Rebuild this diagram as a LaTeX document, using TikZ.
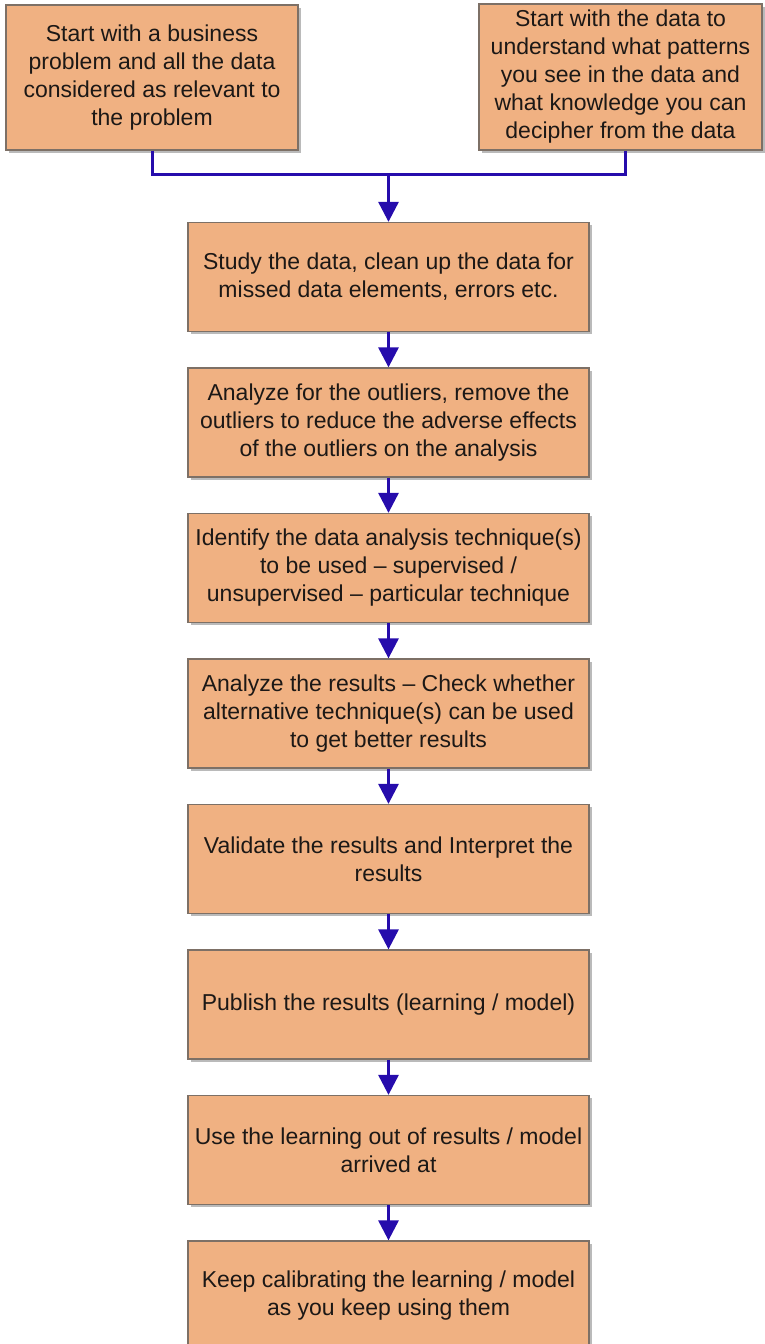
\documentclass[tikz,border=0pt]{standalone}
\usepackage{fontspec}
\setmainfont{Liberation Sans}
\usetikzlibrary{arrows.meta,shadows}
\definecolor{boxfill}{RGB}{240,177,130}
\definecolor{boxline}{RGB}{125,112,102}
\definecolor{flow}{RGB}{38,12,172}
\definecolor{ink}{RGB}{28,24,22}
\tikzset{
  stepbox/.style={draw=boxline, line width=1.3pt, fill=boxfill,
    drop shadow={shadow xshift=2.5pt, shadow yshift=-2.5pt, fill=black!45, opacity=0.6},
    align=center, text=ink, inner sep=0pt,
    font=\fontsize{23}{28}\selectfont},
  mainbox/.style={stepbox, minimum width=401pt, minimum height=109pt},
  flowline/.style={draw=flow, line width=3pt},
  flowarrow/.style={flowline, -{Triangle[width=20pt,length=20pt]}}
}
\begin{document}
\begin{tikzpicture}[x=1pt,y=-1pt]
\useasboundingbox (0,0) rectangle (765,1344);
\clip (0,0) rectangle (765,1344);

% two starting points
\node[stepbox, minimum width=292pt, minimum height=145pt] (tl) at (152,77.5)
  {Start with a business\\problem and all the data\\considered as relevant to\\the problem};
\node[stepbox, minimum width=283pt, minimum height=146pt] (tr) at (620.5,77)
  {Start with the data to\\understand what patterns\\you see in the data and\\what knowledge you can\\decipher from the data};

% main sequence of steps
\node[mainbox] (s1) at (388.5,277)
  {Study the data, clean up the data for\\missed data elements, errors etc.};
\node[mainbox] (s2) at (388.5,422.5)
  {Analyze for the outliers, remove the\\outliers to reduce the adverse effects\\of the outliers on the analysis};
\node[mainbox] (s3) at (388.5,568)
  {Identify the data analysis technique(s)\\to be used – supervised /\\unsupervised – particular technique};
\node[mainbox] (s4) at (388.5,713.5)
  {Analyze the results – Check whether\\alternative technique(s) can be used\\to get better results};
\node[mainbox] (s5) at (388.5,859)
  {Validate the results and Interpret the\\results};
\node[mainbox] (s6) at (388.5,1004.5)
  {Publish the results (learning / model)};
\node[mainbox] (s7) at (388.5,1150)
  {Use the learning out of results / model\\arrived at};
\node[mainbox] (s8) at (388.5,1295.5)
  {Keep calibrating the learning / model\\as you keep using them};

% joining the two starts
\coordinate (j) at (388.5,174);
\draw[flowline] (tl.south) |- (j) -| ([xshift=4.5pt]tr.south);
\draw[flowarrow] (j) -- (s1.north);

% arrows between steps
\foreach \a/\b in {s1/s2,s2/s3,s3/s4,s4/s5,s5/s6,s6/s7,s7/s8}
  \draw[flowarrow] (\a.south) -- (\b.north);
\end{tikzpicture}
\end{document}
